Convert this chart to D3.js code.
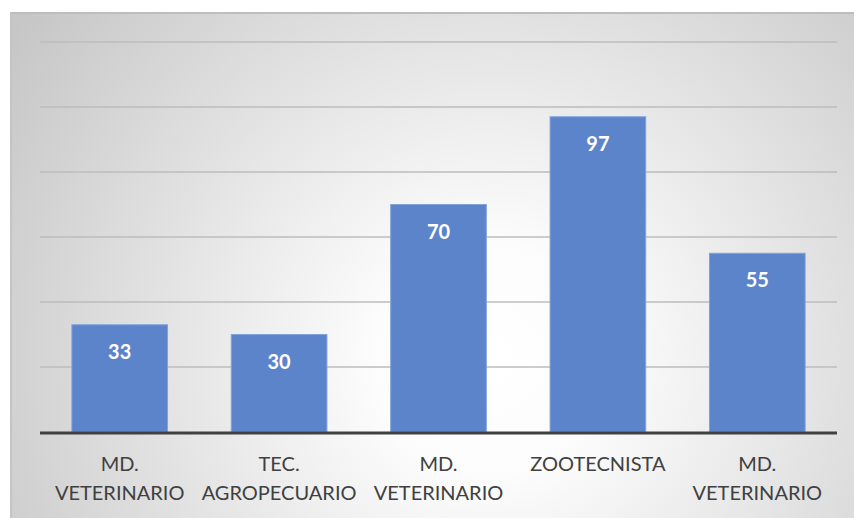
<!DOCTYPE html>
<html>
<head>
<meta charset="utf-8">
<script src="https://cdn.jsdelivr.net/npm/d3@7"></script>
<style>
  body { margin: 0; background: #fff; }
</style>
</head>
<body>
<div id="chart"></div>
<script>
// chart values
const categories = ["MD.|VETERINARIO", "TEC.|AGROPECUARIO", "MD.|VETERINARIO", "ZOOTECNISTA", "MD.|VETERINARIO"];
const values = [33, 30, 70, 97, 55];
const gridTicks = [20, 40, 60, 80, 100, 120];

const width = 854;
const height = 518;
const margin = { top: 42, right: 17, bottom: 86, left: 40 };

const svg = d3.select("#chart")
  .append("svg")
  .attr("width", width)
  .attr("height", height);

const defs = svg.append("defs");
const grad = defs.append("radialGradient")
  .attr("id", "bg")
  .attr("gradientUnits", "userSpaceOnUse")
  .attr("cx", 490).attr("cy", 360).attr("r", 580);
grad.append("stop").attr("offset", "0%").attr("stop-color", "#ffffff");
grad.append("stop").attr("offset", "20%").attr("stop-color", "#fcfcfc");
grad.append("stop").attr("offset", "100%").attr("stop-color", "#c6c6c6");

// background panel + shadowed edges
svg.append("rect")
  .attr("x", 10).attr("y", 12)
  .attr("width", width - 10).attr("height", height - 12)
  .attr("fill", "url(#bg)");
svg.append("line")
  .attr("x1", 10).attr("x2", width).attr("y1", 13).attr("y2", 13)
  .attr("stroke", "#bdbdbd").attr("stroke-width", 2);
svg.append("line")
  .attr("x1", 11).attr("x2", 11).attr("y1", 12).attr("y2", height)
  .attr("stroke", "#c4c4c4").attr("stroke-width", 2);

const x = d3.scaleBand()
  .domain(d3.range(categories.length))
  .range([margin.left, width - margin.right])
  .paddingInner(0.4)
  .paddingOuter(0.2);

const y = d3.scaleLinear()
  .domain([0, 120])
  .range([height - margin.bottom, margin.top]);

// gridlines
svg.append("g")
  .selectAll("line")
  .data(gridTicks)
  .enter()
  .append("line")
  .attr("x1", margin.left)
  .attr("x2", width - margin.right)
  .attr("y1", d => y(d))
  .attr("y2", d => y(d))
  .attr("stroke", "#bcbcbc")
  .attr("stroke-width", 1.5);

// bars
svg.append("g")
  .selectAll("rect")
  .data(values)
  .enter()
  .append("rect")
  .attr("x", (d, i) => x(i))
  .attr("y", d => y(d))
  .attr("width", x.bandwidth())
  .attr("height", d => y(0) - y(d))
  .attr("fill", "#5b84cb")
  .attr("stroke", "#82a2da")
  .attr("stroke-width", 1);

// value labels
svg.append("g")
  .selectAll("text")
  .data(values)
  .enter()
  .append("text")
  .attr("x", (d, i) => x(i) + x.bandwidth() / 2)
  .attr("y", d => y(d) + 34)
  .attr("text-anchor", "middle")
  .attr("font-family", "Lato, 'Open Sans', sans-serif")
  .attr("font-weight", "bold")
  .attr("font-size", "20px")
  .attr("fill", "#ffffff")
  .text(d => d);

// baseline
svg.append("line")
  .attr("x1", margin.left)
  .attr("x2", width - margin.right)
  .attr("y1", y(0) + 1)
  .attr("y2", y(0) + 1)
  .attr("stroke", "#404040")
  .attr("stroke-width", 3);

// category labels
const cat = svg.append("g")
  .selectAll("text")
  .data(categories)
  .enter()
  .append("text")
  .attr("text-anchor", "middle")
  .attr("font-family", "Lato, 'Open Sans', sans-serif")
  .attr("font-size", "20px")
  .attr("fill", "#404040");

cat.each(function(d, i) {
  const lines = d.split("|");
  lines.forEach((t, k) => {
    d3.select(this).append("tspan")
      .attr("x", x(i) + x.bandwidth() / 2)
      .attr("y", y(0) + 39 + k * 29)
      .text(t);
  });
});
</script>
</body>
</html>
